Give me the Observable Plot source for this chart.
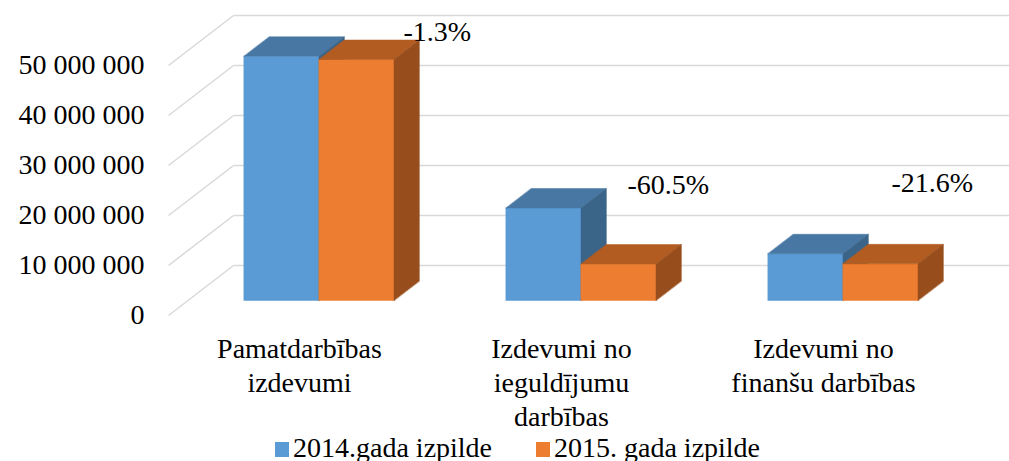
<!DOCTYPE html>
<html><head><meta charset="utf-8">
<script src="https://cdn.jsdelivr.net/npm/d3@7"></script>
<script src="https://cdn.jsdelivr.net/npm/@observablehq/plot@0.6"></script>
<style>
body{margin:0;background:#fff;font-family:"Liberation Serif","Times New Roman","Tinos","DejaVu Serif","Liberation Sans",serif;overflow:hidden;}
#chart svg{display:block;overflow:hidden;}
#legend{position:relative;height:29px;line-height:29px;font-size:28px;color:#000;white-space:nowrap;}
#legend .item{position:absolute;top:1px;}
#legend .sw{display:inline-block;width:14px;height:15px;margin-right:4px;}
</style></head><body>
<div id="chart"></div>
<div id="legend"></div>
<script>
// ---- data ----
const categories = ["Pamatdarbības izdevumi", "Izdevumi no ieguldījumu darbības", "Izdevumi no finanšu darbības"];
const tickLabels = ["Pamatdarbības\nizdevumi", "Izdevumi no\nieguldījumu\ndarbības", "Izdevumi no\nfinanšu darbības"];
const seriesNames = ["2014.gada izpilde", "2015. gada izpilde"];
const values2014 = [48850000, 18500000, 9350000];
const values2015 = [48200000, 7300000, 7330000];
const changeLabels = ["-1.3%", "-60.5%", "-21.6%"];
const yTicks = [0, 10000000, 20000000, 30000000, 40000000, 50000000];

// ---- style / geometry ----
const FONT = "'Liberation Serif', 'Times New Roman', Tinos, 'DejaVu Serif', 'Liberation Sans', serif";
const FS = 28;
const colors = [
  {front: "#5B9BD5", top: "#4777A2", side: "#3A6488"},
  {front: "#ED7D31", top: "#B35C21", side: "#984E1C"}
];
const DX = 65 / 262;      // wall depth in category units
const DY = 10000000;      // wall depth in value units
const F0 = 0.3, FB = 0.39; // bar front depth / bar thickness (fraction of wall)
const BW = 75 / 262;      // bar width in category units
const labelOffsets = [[18, -8], [-13, -59], [-11, -61]];

const fmt = d3.formatLocale({decimal: ".", thousands: " ", grouping: [3], currency: ["", ""]}).format(",");

const grid = yTicks.map(v => ({v}));

const series = [values2014, values2015];
const polys = [];
const anchors = [];
categories.forEach((cat, i) => {
  series.forEach((vals, s) => {
    const v = vals[i];
    const c = i + 0.5;
    const x0 = c - BW + s * BW + F0 * DX, x1 = x0 + BW;
    const yb = F0 * DY, yt = v + F0 * DY;
    const bx = FB * DX, by = FB * DY;
    const id = `${i}-${s}`;
    const faces = {
      front: [[x0, yb], [x1, yb], [x1, yt], [x0, yt]],
      top: [[x0, yt], [x1, yt], [x1 + bx, yt + by], [x0 + bx, yt + by]],
      side: [[x1, yb], [x1, yt], [x1 + bx, yt + by], [x1 + bx, yb + by]]
    };
    for (const f of ["front", "top", "side"]) {
      for (const [x, y] of faces[f]) polys.push({id: id + f, x, y, fill: colors[s][f]});
    }
    if (s === 1) anchors.push({x: x1 + bx, y: yt + by, label: changeLabels[i]});
  });
});

const cats = categories.map((c, i) => ({x: i + 0.5, label: tickLabels[i]}));

const plot = Plot.plot({
  width: 1009,
  height: 432,
  marginLeft: 168,
  marginRight: 55,
  marginTop: 65,
  marginBottom: 117,
  x: {domain: [0, 3], range: [168, 954], axis: null},
  y: {domain: [0, 50000000], range: [315, 65], axis: null},
  color: {type: "identity"},
  style: {fontFamily: FONT, fontSize: FS + "px", background: "#fff", color: "#000"},
  marks: [
    Plot.link(grid, {x1: DX, x2: 3 + DX + 0.5, y1: d => d.v + DY, y2: d => d.v + DY, stroke: "#D9D9D9", strokeWidth: 1.5}),
    Plot.link(grid, {x1: 0, x2: DX, y1: d => d.v, y2: d => d.v + DY, stroke: "#D9D9D9", strokeWidth: 1.5}),
    Plot.line(polys, {x: "x", y: "y", z: "id", fill: "fill", stroke: "fill", strokeWidth: 0.5, curve: "linear-closed"}),
    Plot.axisY({ticks: yTicks, tickFormat: fmt, tickSize: 0, tickPadding: 24, fontSize: FS, fontFamily: FONT, label: null}),
    Plot.text(cats, {x: "x", y: 0, text: "label", dy: 19, lineAnchor: "top", lineHeight: 1.2, fontSize: FS, fontFamily: FONT, fill: "#000"}),
    ...labelOffsets.map((o, k) => Plot.text(anchors, {filter: (d, i) => i === k, x: "x", y: "y", text: "label", dx: o[0], dy: o[1], fontSize: FS, fontFamily: FONT, fill: "#000"}))
  ]
});
document.getElementById("chart").appendChild(plot);

const legend = document.getElementById("legend");
const legendX = [275, 536];
seriesNames.forEach((n, s) => {
  const it = document.createElement("span");
  it.className = "item";
  it.style.left = legendX[s] + "px";
  const sw = document.createElement("span");
  sw.className = "sw";
  sw.style.background = colors[s].front;
  it.appendChild(sw);
  it.appendChild(document.createTextNode(n));
  legend.appendChild(it);
});
</script>
</body></html>
